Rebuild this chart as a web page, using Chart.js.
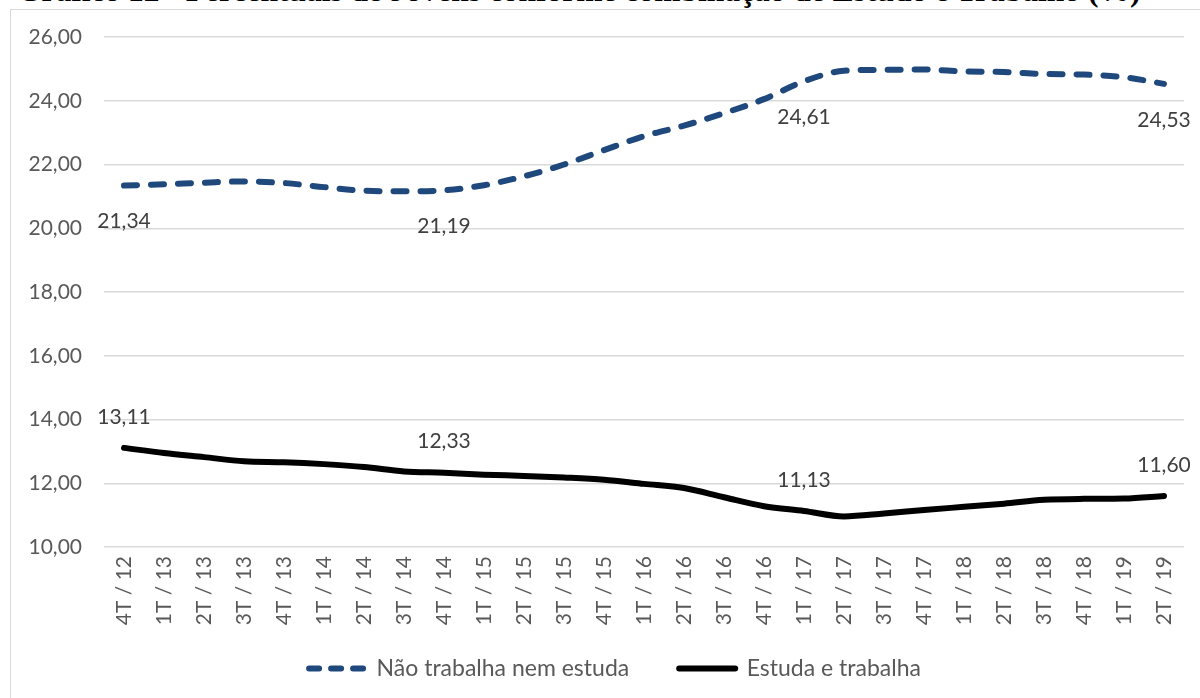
<!DOCTYPE html>
<html lang="pt-BR">
<head>
<meta charset="utf-8">
<script src="https://cdn.jsdelivr.net/npm/chart.js@4"></script>
<style>
  html, body { margin:0; padding:0; background:#fff; }
  body { width:1200px; height:698px; position:relative; overflow:hidden; }
  #title { position:absolute; left:17px; top:-27px; white-space:nowrap; line-height:1;
           font:bold 31.5px "Liberation Serif", "DejaVu Serif", serif; color:#000; }
  #frame { position:absolute; left:10px; top:9px; width:1200px; height:700px;
           border:1.5px solid #d9d9d9; box-sizing:border-box; }
  #wrap  { position:absolute; left:0; top:0; width:1200px; height:698px; }
</style>
</head>
<body>
<div id="title">Gráfico 12 - Percentuais de Jovens conforme combinação de Estudo e Trabalho (%)</div>
<div id="frame"></div>
<div id="wrap"><canvas id="chart"></canvas></div>
<script>
// trimestres 4T/12 .. 2T/19
const periodos = ['4T / 12','1T / 13','2T / 13','3T / 13','4T / 13','1T / 14','2T / 14','3T / 14','4T / 14',
                  '1T / 15','2T / 15','3T / 15','4T / 15','1T / 16','2T / 16','3T / 16','4T / 16',
                  '1T / 17','2T / 17','3T / 17','4T / 17','1T / 18','2T / 18','3T / 18','4T / 18',
                  '1T / 19','2T / 19'];

const naoTrabalhaNemEstuda = [21.34, 21.38, 21.43, 21.47, 21.42, 21.29, 21.18, 21.16, 21.19,
                              21.35, 21.63, 22.00, 22.45, 22.89, 23.22, 23.61, 24.05,
                              24.61, 24.94, 24.97, 24.98, 24.92, 24.90, 24.84, 24.82,
                              24.74, 24.53];

const estudaETrabalha = [13.11, 12.95, 12.82, 12.69, 12.66, 12.60, 12.51, 12.37, 12.33,
                         12.27, 12.23, 12.18, 12.11, 11.98, 11.85, 11.56, 11.28,
                         11.13, 10.96, 11.05, 11.16, 11.26, 11.36, 11.48, 11.51,
                         11.52, 11.60];

const yTicks = [10, 12, 14, 16, 18, 20, 22, 24, 26];

// pontos com rótulo de valor
const rotulados = [0, 8, 17, 26];

const fmt = v => v.toFixed(2).replace('.', ',');
const FONT = 'Lato, "Open Sans", sans-serif';

// rótulos de dados: série tracejada abaixo do ponto, série contínua acima
const valueLabels = {
  id: 'valueLabels',
  afterDatasetsDraw(chart) {
    const ctx = chart.ctx;
    ctx.save();
    ctx.font = '21px ' + FONT;
    ctx.fillStyle = '#404040';
    ctx.textAlign = 'center';
    ctx.textBaseline = 'middle';
    chart.data.datasets.forEach((ds, di) => {
      const meta = chart.getDatasetMeta(di);
      const dy = ds.labelBelow ? 36 : -31;
      rotulados.forEach(i => {
        const pt = meta.data[i];
        ctx.fillText(fmt(ds.data[i]), pt.x, pt.y + dy);
      });
    });
    ctx.restore();
  }
};

// os eixos ficam estreitos para abrir espaço à legenda; os rótulos
// podem passar da caixa do eixo sem serem cortados
const looseTicks = {
  id: 'looseTicks',
  afterLayout(chart) {
    chart.scales.y.left = 0;
    chart.scales.x.bottom = chart.height;
  }
};

new Chart(document.getElementById('chart'), {
  type: 'line',
  data: {
    labels: periodos,
    datasets: [
      { label:'Não trabalha nem estuda', data: naoTrabalhaNemEstuda, labelBelow:true,
        borderColor:'#1f497d', backgroundColor:'#1f497d', borderWidth:6,
        borderDash:[13, 14], borderCapStyle:'round', pointRadius:0, cubicInterpolationMode:'monotone' },
      { label:'Estuda e trabalha', data: estudaETrabalha, labelBelow:false,
        borderColor:'#000000', backgroundColor:'#000000', borderWidth:6,
        borderCapStyle:'round', pointRadius:0, cubicInterpolationMode:'monotone' }
    ]
  },
  options: {
    responsive:true, maintainAspectRatio:false, animation:false,
    layout: { padding: { left:46, right:16, top:37, bottom:8 } },
    plugins: {
      tooltip: { enabled:false },
      legend: {
        position:'bottom',
        maxHeight:85,
        labels: {
          usePointStyle:true, pointStyle:'line', pointStyleWidth:56, boxHeight:6,
          font:{ size:23, family:FONT }, color:'#595959', padding:50,
          generateLabels(chart) {
            return chart.data.datasets.map((ds, i) => ({
              text: ds.label, datasetIndex: i,
              strokeStyle: ds.borderColor, fillStyle: ds.borderColor,
              lineWidth: 6, lineCap: 'round', pointStyle: 'line',
              lineDash: ds.borderDash ? [10, 12] : [],
              fontColor: '#595959'
            }));
          }
        }
      }
    },
    scales: {
      x: {
        offset:true,
        grid:{ display:false, drawTicks:false },
        border:{ display:false },
        ticks:{ maxRotation:90, minRotation:90, autoSkip:false, padding:9,
                font:{ size:21, family:FONT }, color:'#595959' },
        afterFit(s) { s.height = 60; }
      },
      y: {
        min:10, max:26,
        afterBuildTicks(s) { s.ticks = yTicks.map(v => ({ value:v })); },
        grid:{ color:'#d9d9d9', lineWidth:1.5, drawTicks:false },
        border:{ display:false },
        ticks:{ padding:22, font:{ size:21, family:FONT }, color:'#595959',
                callback: v => fmt(v) },
        afterFit(s) { s.width = 58; }
      }
    }
  },
  plugins: [valueLabels, looseTicks]
});
</script>
</body>
</html>
